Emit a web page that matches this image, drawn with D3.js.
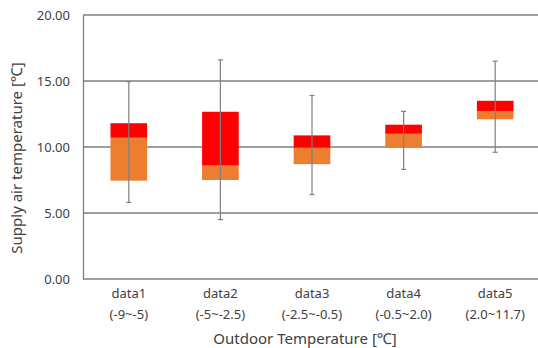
<!DOCTYPE html>
<html>
<head>
<meta charset="utf-8">
<script src="https://cdn.jsdelivr.net/npm/d3@7"></script>
<style>
  body { margin: 0; background: #fff; }
  text { font-family: "Noto Sans", "Open Sans", sans-serif; fill: #404040; }
</style>
</head>
<body>
<div id="chart"></div>
<script>
// data
var categories = ["data1", "data2", "data3", "data4", "data5"];
var ranges = ["(-9~-5)", "(-5~-2.5)", "(-2.5~-0.5)", "(-0.5~2.0)", "(2.0~11.7)"];
var minVals = [5.8, 4.5, 6.4, 8.3, 9.6];
var q1Vals = [7.45, 7.5, 8.7, 9.95, 12.1];
var medVals = [10.7, 8.6, 9.95, 11.0, 12.73];
var q3Vals = [11.8, 12.67, 10.88, 11.69, 13.5];
var maxVals = [14.95, 16.6, 13.9, 12.7, 16.5];
var yTicks = [0, 5, 10, 15, 20];

var width = 538, height = 348;
var margin = {top: 15, left: 83, bottom: 69};

var svg = d3.select("#chart")
  .append("svg")
    .attr("width", width)
    .attr("height", height);

var x = d3.scaleBand()
  .domain(categories)
  .range([margin.left, 541])
  .paddingInner(0.6)
  .paddingOuter(0.3);

var y = d3.scaleLinear()
  .domain([0, 20])
  .range([height - margin.bottom, margin.top]);

// grid lines
svg.append("g")
  .selectAll("line")
  .data(yTicks)
  .enter()
  .append("line")
    .attr("x1", margin.left)
    .attr("x2", width)
    .attr("y1", function(d) { return y(d); })
    .attr("y2", function(d) { return y(d); })
    .attr("stroke", "#7f7f7f")
    .attr("stroke-width", 1.3);

// y axis
var yAxis = svg.append("g")
  .attr("transform", "translate(" + margin.left + ",0)")
  .call(d3.axisLeft(y).tickValues(yTicks).tickSize(0).tickPadding(13)
    .tickFormat(d3.format(".2f")));
yAxis.select(".domain").attr("stroke", "#7f7f7f").attr("stroke-width", 1.3);
yAxis.selectAll("text")
  .style("font-size", "13px")
  .style("font-family", "'Noto Sans', sans-serif")
  .attr("fill", "#404040");

var rows = categories.map(function(c, i) {
  return {cat: c, min: minVals[i], q1: q1Vals[i], med: medVals[i], q3: q3Vals[i], max: maxVals[i]};
});

// lower box (q1 - median)
svg.selectAll(".lower")
  .data(rows)
  .enter()
  .append("rect")
    .attr("x", function(d) { return x(d.cat); })
    .attr("y", function(d) { return y(d.med); })
    .attr("width", x.bandwidth())
    .attr("height", function(d) { return y(d.q1) - y(d.med); })
    .attr("fill", "#ed7d31");

// upper box (median - q3)
svg.selectAll(".upper")
  .data(rows)
  .enter()
  .append("rect")
    .attr("x", function(d) { return x(d.cat); })
    .attr("y", function(d) { return y(d.q3); })
    .attr("width", x.bandwidth())
    .attr("height", function(d) { return y(d.med) - y(d.q3); })
    .attr("fill", "#ff0000");

// whiskers
var wh = svg.append("g").attr("stroke", "#7f7f7f").attr("stroke-width", 1.2);
wh.selectAll(".stem")
  .data(rows)
  .enter()
  .append("line")
    .attr("x1", function(d) { return x(d.cat) + x.bandwidth() / 2; })
    .attr("x2", function(d) { return x(d.cat) + x.bandwidth() / 2; })
    .attr("y1", function(d) { return y(d.min); })
    .attr("y2", function(d) { return y(d.max); });
["min", "max"].forEach(function(k) {
  wh.selectAll(".cap-" + k)
    .data(rows)
    .enter()
    .append("line")
      .attr("x1", function(d) { return x(d.cat) + x.bandwidth() / 2 - 2.5; })
      .attr("x2", function(d) { return x(d.cat) + x.bandwidth() / 2 + 2.5; })
      .attr("y1", function(d) { return y(d[k]); })
      .attr("y2", function(d) { return y(d[k]); });
});

// x labels, two lines each
var xl = svg.append("g");
xl.selectAll(".cat")
  .data(categories)
  .enter()
  .append("text")
    .attr("x", function(d) { return x(d) + x.bandwidth() / 2; })
    .attr("y", 298)
    .attr("text-anchor", "middle")
    .style("font-size", "13px")
    .text(function(d) { return d; });
xl.selectAll(".rng")
  .data(categories)
  .enter()
  .append("text")
    .attr("x", function(d) { return x(d) + x.bandwidth() / 2; })
    .attr("y", 319)
    .attr("text-anchor", "middle")
    .style("font-size", "13px")
    .text(function(d, i) { return ranges[i]; });

// axis titles
svg.append("text")
  .attr("x", 305)
  .attr("y", 344)
  .attr("text-anchor", "middle")
  .style("font-size", "15px")
  .text("Outdoor Temperature [℃]");

svg.append("text")
  .attr("transform", "translate(22,158) rotate(-90)")
  .attr("text-anchor", "middle")
  .style("font-size", "15px")
  .text("Supply air temperature [℃]");
</script>
</body>
</html>
